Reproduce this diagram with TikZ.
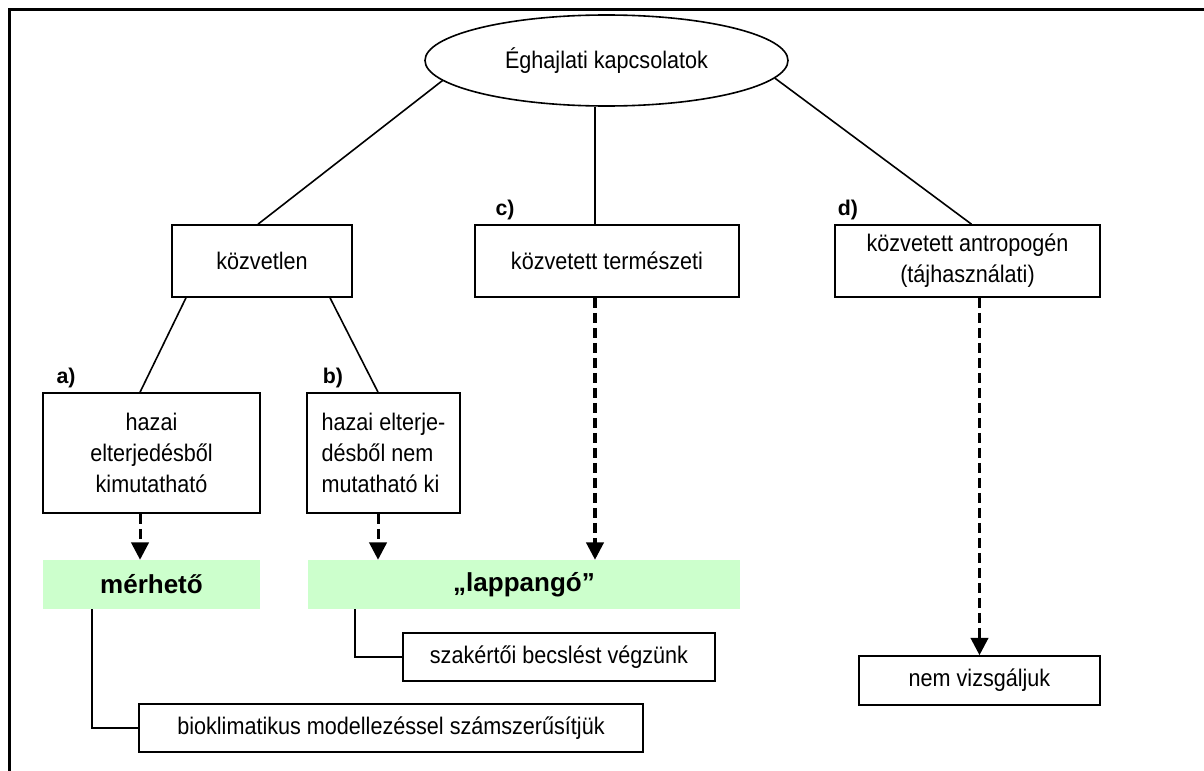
\documentclass[tikz,border=0pt]{standalone}
\usepackage{fontspec}
\setmainfont{Liberation Sans}[FakeStretch=0.9]
\newfontfamily\wideb{Liberation Sans}
\usetikzlibrary{arrows.meta,shapes.geometric,calc}
\definecolor{paleg}{HTML}{CCFFCC}
\tikzset{
 box/.style={draw, line width=1.2pt, fill=white, inner sep=2pt, align=center, font=\fontsize{18pt}{23.25pt}\selectfont},
 greenbox/.style={fill=paleg, inner sep=0pt, font=\wideb\bfseries\fontsize{19.5pt}{23pt}\selectfont},
 lab/.style={inner sep=0pt, font=\wideb\bfseries\fontsize{16pt}{19pt}\selectfont},
 con/.style={line width=1.2pt},
 darr/.style={line width=2.3pt, dash pattern=on 7.5pt off 3.75pt, -{Triangle[length=13pt,width=13pt]}},
 frameline/.style={line width=2.25pt}
}
\begin{document}
\begin{tikzpicture}[x=0.75pt,y=-0.75pt]
\useasboundingbox (0,0) rectangle (1204,771);
\draw[frameline] (9,771) -- (9,9) -- (1204,9);

\node[ellipse,draw,line width=1.2pt,minimum width=272.25pt,minimum height=68.25pt,inner sep=0pt,font=\fontsize{18pt}{22pt}\selectfont] (ell) at (606.5,60.5) {Éghajlati kapcsolatok};
\node[box,minimum width=135pt,minimum height=54pt] (k) at (262,261) {közvetlen};
\node[box,minimum width=198pt,minimum height=54pt] (c) at (607,261) {közvetett természeti};
\node[box,minimum width=198.75pt,minimum height=54pt] (d) at (967.5,261) {közvetett antropogén\\(tájhasználati)};
\node[box,minimum width=162.75pt,minimum height=90pt] (a) at (151.5,453) {hazai\\elterjedésből\\kimutatható};
\node[box,minimum width=114.75pt,minimum height=90pt,align=left] (b) at (383.5,453) {hazai elterje-\\désből nem\\mutatható ki};
\node[greenbox,minimum width=162.75pt,minimum height=36.75pt] (m) at (151.5,584.5) {mérhető};
\node[greenbox,minimum width=324pt,minimum height=36.75pt] (l) at (524,584.5) {„lappangó”};
\node[box,minimum width=234pt,minimum height=36pt] (s) at (559,657) {szakértői becslést végzünk};
\node[box,minimum width=378pt,minimum height=36pt] (bio) at (391,728) {bioklimatikus modellezéssel számszerűsítjük};
\node[box,minimum width=180.75pt,minimum height=36.75pt] (n) at (979.5,680.5) {nem vizsgáljuk};

\node[lab] (la) at (66,378) {a)};
\node[lab] (lb) at (333,378) {b)};
\node[lab] (lc) at (505,210) {c)};
\node[lab] (ld) at (848,210) {d)};

\draw[con] (ell.187.5) -- ([xshift=-3pt]k.north);
\draw[con] ([xshift=-8.6pt]ell.south) -- ([xshift=-8.6pt]ell.south |- c.north);
\draw[con] (ell.-6.7) -- ([xshift=3pt]d.north);
\draw[con] ([xshift=-57pt]k.south) -- ([xshift=-8.6pt]a.north);
\draw[con] ([xshift=51pt]k.south) -- ([xshift=-4.1pt]b.north);
\draw[darr] ([xshift=-8.6pt]a.south) -- ([xshift=-8.6pt]a.south |- m.north);
\draw[darr] ([xshift=-4.1pt]b.south) -- ([xshift=-4.1pt]b.south |- l.north);
\draw[darr] ([xshift=-9pt]c.south) -- ([xshift=-9pt]c.south |- l.north);
\draw[darr] (d.south -| n.north) -- (n.north);
\draw[con] ([xshift=-44.6pt]m.south) |- (bio.west);
\draw[con] ([xshift=-126.75pt]l.south) |- (s.west);
\end{tikzpicture}
\end{document}
